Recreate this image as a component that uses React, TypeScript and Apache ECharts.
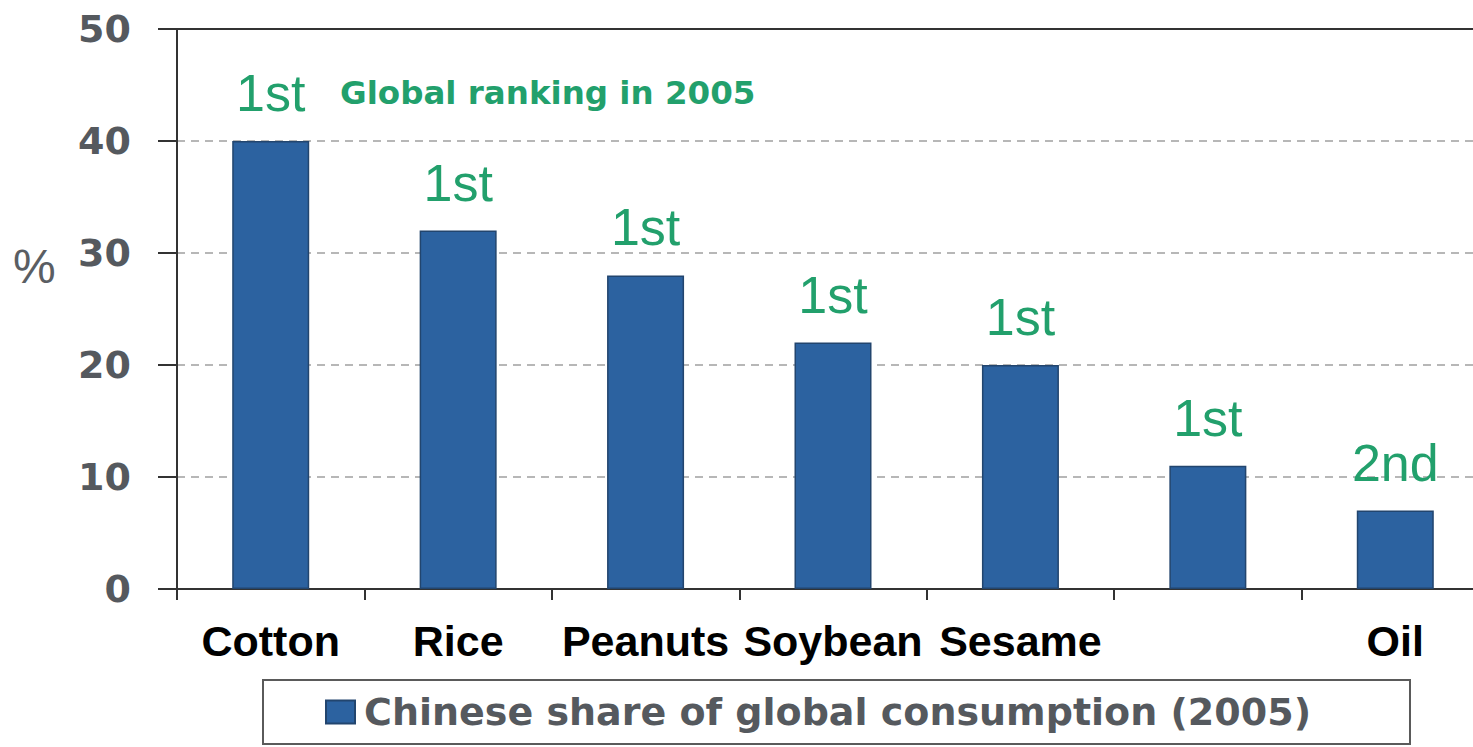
import React, { useEffect, useRef } from "react";
import * as echarts from "echarts";

const categories = ["Cotton", "Rice", "Peanuts", "Soybean", "Sesame", "", "Oil"];
const shareValues = [40, 32, 28, 22, 20, 11, 7];
const ranks = ["1st", "1st", "1st", "1st", "1st", "1st", "2nd"];
const seriesName = "Chinese share of global consumption (2005)";
const rankingTitle = "Global ranking in 2005";
const yUnit = "%";

export default function App() {
  const ref = useRef<HTMLDivElement>(null);
  useEffect(() => {
    if (!ref.current) return;
    const chart = echarts.init(ref.current, null, { renderer: "svg" });
    chart.setOption({
      animation: false,
      backgroundColor: "#ffffff",
      title: {
        text: rankingTitle,
        left: 340,
        top: 76,
        padding: 0,
        textStyle: {
          fontFamily: "DejaVu Sans",
          fontWeight: "bold",
          fontSize: 32.5,
          color: "#22a06c",
        },
      },
      graphic: [
        {
          type: "text",
          left: 13,
          top: 242,
          style: {
            text: yUnit,
            fontFamily: "Liberation Sans",
            fontSize: 48,
            fill: "#5a5e63",
          },
        },
      ],
      legend: {
        data: [seriesName],
        left: 263,
        top: 680,
        padding: [13, 99, 13, 62],
        borderColor: "#5a5a5a",
        borderWidth: 2,
        itemWidth: 29,
        itemHeight: 23,
        itemGap: 0,
        selectedMode: false,
        icon: "rect",
        textStyle: {
          fontFamily: "DejaVu Sans",
          fontWeight: "bold",
          fontSize: 38,
          color: "#55595e",
          padding: [0, 0, 0, 4],
        },
      },
      grid: {
        left: 177,
        top: 29,
        width: 1312,
        height: 560,
        containLabel: false,
      },
      xAxis: [
        {
          type: "category",
          data: categories,
          axisLine: { show: true, lineStyle: { color: "#333", width: 2 } },
          axisTick: { show: true, length: 11, lineStyle: { color: "#333", width: 2 } },
          axisLabel: {
            interval: 0,
            margin: 30,
            fontFamily: "Liberation Sans",
            fontWeight: "bold",
            fontSize: 43,
            color: "#000",
          },
        },
        {
          type: "category",
          position: "top",
          data: categories,
          axisLine: { show: true, lineStyle: { color: "#333", width: 2 } },
          axisTick: { show: false },
          axisLabel: { show: false },
        },
      ],
      yAxis: {
        type: "value",
        min: 0,
        max: 50,
        interval: 10,
        axisLine: { show: true, lineStyle: { color: "#333", width: 2 } },
        axisTick: { show: true, inside: false, length: 19, lineStyle: { color: "#333", width: 2 } },
        axisLabel: {
          margin: 46,
          fontFamily: "DejaVu Sans",
          fontWeight: "bold",
          fontSize: 38,
          color: "#55595e",
        },
        splitLine: {
          show: true,
          lineStyle: { color: "#a0a0a0", type: [8, 6], width: 1.5 },
        },
      },
      series: [
        {
          name: seriesName,
          type: "bar",
          data: shareValues,
          barWidth: 77,
          itemStyle: {
            color: "#2c62a0",
            borderColor: "#22456e",
            borderWidth: 1.5,
          },
          label: {
            show: true,
            position: "top",
            distance: 22,
            formatter: (p: any) => ranks[p.dataIndex],
            fontFamily: "Liberation Sans",
            fontSize: 52,
            color: "#22a06c",
          },
        },
      ],
    });
    return () => chart.dispose();
  }, []);
  return (
    <div
      style={{
        position: "absolute",
        left: 0,
        top: 0,
        width: 1473,
        height: 747,
        overflow: "hidden",
        background: "#ffffff",
      }}
    >
      <div ref={ref} style={{ width: 1490, height: 747 }} />
    </div>
  );
}
